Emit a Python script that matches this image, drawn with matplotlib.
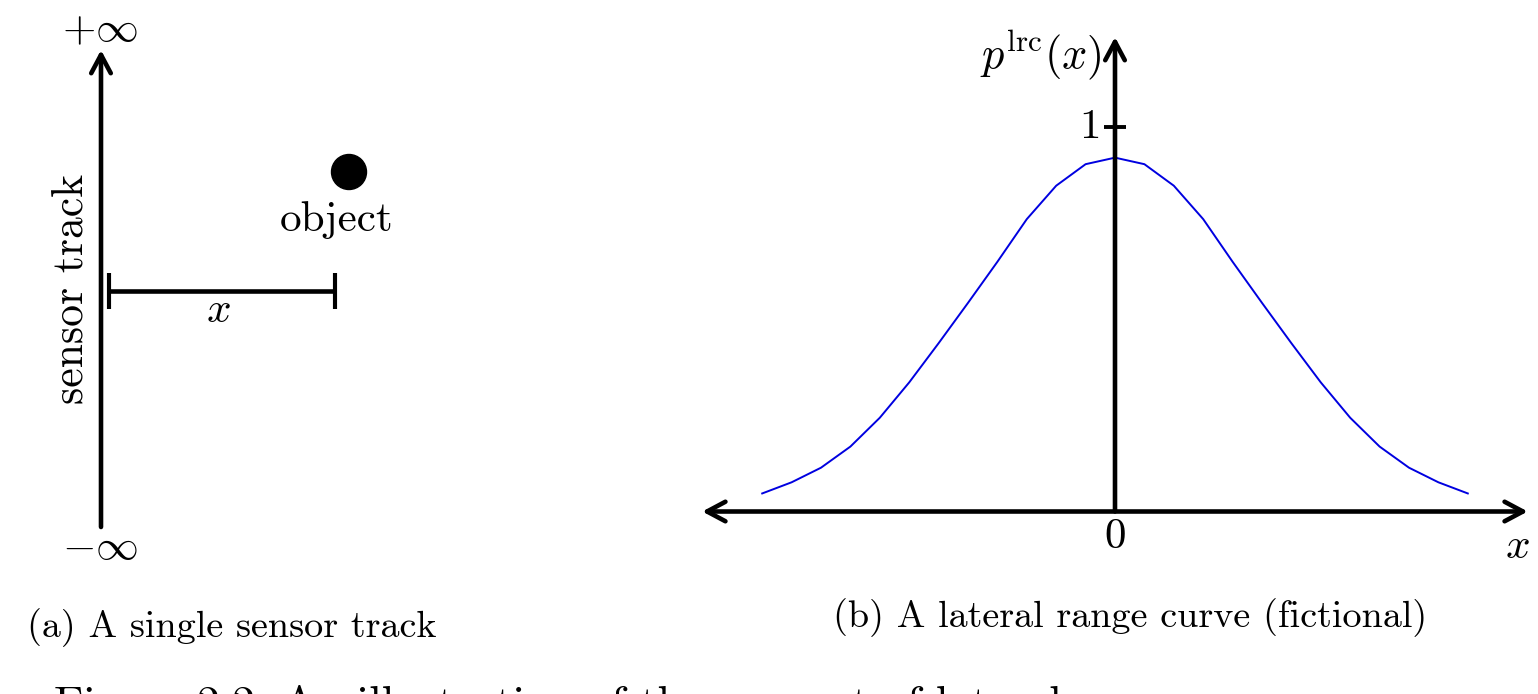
import matplotlib
matplotlib.use("Agg")
import matplotlib.pyplot as plt
from matplotlib.patches import Circle

plt.rcParams['mathtext.fontset'] = 'cm'
plt.rcParams['font.family'] = ['cmr10', 'DejaVu Serif']
plt.rcParams['axes.unicode_minus'] = False

# lateral range curve (fictional)
x_vals = [-3.0, -2.75, -2.5, -2.25, -2.0, -1.75, -1.5, -1.25, -1.0, -0.75, -0.5, -0.25, 0.0,
          0.25, 0.5, 0.75, 1.0, 1.25, 1.5, 1.75, 2.0, 2.25, 2.5, 2.75, 3.0]
p_lrc = [0.047, 0.076, 0.114, 0.169, 0.244, 0.336, 0.438, 0.543, 0.650, 0.761, 0.848, 0.904, 0.921,
         0.904, 0.848, 0.761, 0.650, 0.543, 0.438, 0.336, 0.244, 0.169, 0.114, 0.076, 0.047]
y_ticks = [1]
x_ticks = [0]

captions = ['(a) A single sensor track', '(b) A lateral range curve (fictional)']
fig_caption = 'Figure 2.2: An illustration of the concept of lateral range curve'

W, H = 1538, 694
fig = plt.figure(figsize=(W / 100, H / 100), dpi=100)

LW = 3.3
FS = 31
CAP_FS = 27.5

# ---- overlay in pixel coords (left sketch + captions)
ov = fig.add_axes([0, 0, 1, 1])
ov.set_xlim(0, W)
ov.set_ylim(H, 0)
ov.axis('off')

# sensor track arrow
ov.annotate('', xy=(101, 50), xytext=(101, 527),
            arrowprops=dict(arrowstyle='->,head_length=0.6,head_width=0.32',
                            lw=LW, color='black', shrinkA=0, shrinkB=0,
                            mutation_scale=22))
ov.text(100, 31, r'$+\infty$', fontsize=FS, ha='center', va='center')
ov.text(100, 548, r'$-\infty$', fontsize=FS, ha='center', va='center')
ov.text(71, 289, 'sensor track', fontsize=FS + 0.5, rotation=90, ha='center', va='center')

# distance bar
ov.plot([109, 335], [291, 291], color='black', lw=LW, solid_capstyle='butt')
ov.plot([109, 109], [273, 309], color='black', lw=LW * 0.9, solid_capstyle='butt')
ov.plot([335, 335], [273, 309], color='black', lw=LW * 0.9, solid_capstyle='butt')
ov.text(218, 311, r'$x$', fontsize=FS, ha='center', va='center')

# object
ov.add_patch(Circle((349, 172), 17.5, color='black'))
ov.text(337, 220, 'object', fontsize=FS, ha='center', va='center')

ov.text(27, 637, captions[0], fontsize=CAP_FS, ha='left', va='baseline')
ov.text(833, 627, captions[1], fontsize=CAP_FS, ha='left', va='baseline')
cap = ov.text(54, 716, fig_caption, fontsize=32, ha='left', va='baseline')

# stretch the figure caption to the width seen in the reference (54..1307 px)
r = fig.canvas.get_renderer()
w = cap.get_window_extent(r).width
cap.set_fontsize(32 * 1253 / w)

# ---- right panel, data axes
X0, Y0 = 1115, 511.5   # pixel of origin
SX, SY = 117.6, 384.2  # pixels per unit
xlim = (-3.7, 3.55)
ylim = (-0.25, 1.3)
left = X0 + SX * xlim[0]
right = X0 + SX * xlim[1]
top = Y0 - SY * ylim[1]
bottom = Y0 - SY * ylim[0]
ax = fig.add_axes([left / W, (H - bottom) / H, (right - left) / W, (bottom - top) / H])
ax.set_xlim(*xlim)
ax.set_ylim(*ylim)
ax.axis('off')

ax.plot(x_vals, p_lrc, color='#0000e0', lw=1.4, zorder=3)

ax.annotate('', xy=(3.51, 0), xytext=(-3.51, 0),
            arrowprops=dict(arrowstyle='<->,head_length=0.6,head_width=0.32',
                            lw=LW, color='black', shrinkA=0, shrinkB=0,
                            mutation_scale=22))
ax.annotate('', xy=(0, 1.235), xytext=(0, 0),
            arrowprops=dict(arrowstyle='->,head_length=0.6,head_width=0.32',
                            lw=LW, color='black', shrinkA=0, shrinkB=0,
                            mutation_scale=22))
for t in y_ticks:
    ax.plot([0], [t], marker='_', markersize=16.5, mew=2.8, color='black')
    ax.text(-0.125, t, str(t), fontsize=FS, ha='right', va='center')
for t in x_ticks:
    ax.text(t, -0.066, str(t), fontsize=FS, ha='center', va='center')

ax.text(3.42, -0.092, r'$x$', fontsize=FS, ha='center', va='center')
ax.text(-0.11, 1.19, r'$p^{\mathrm{lrc}}(x)$', fontsize=FS + 1, ha='right', va='center')

fig.savefig('out.png', dpi=100)
